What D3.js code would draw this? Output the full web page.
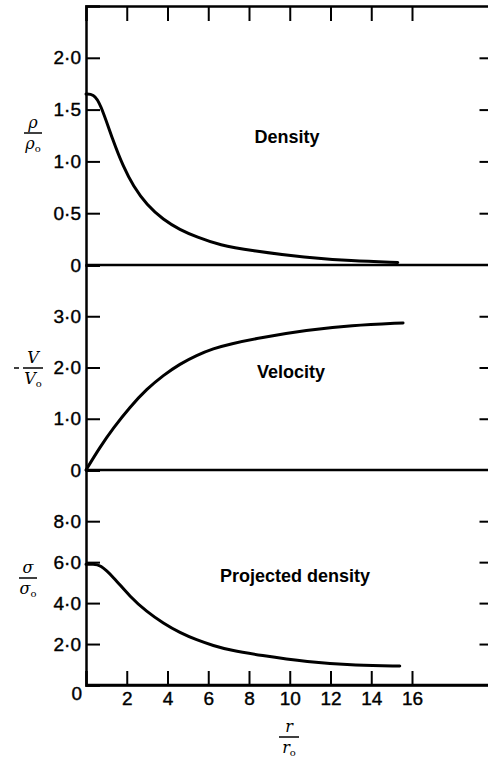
<!DOCTYPE html>
<html>
<head>
<meta charset="utf-8">
<script src="https://cdn.jsdelivr.net/npm/d3@7"></script>
<style>
  body { margin: 0; background: #fff; }
  svg { display: block; }
  .tick text { font-family: "Liberation Sans", Arial, sans-serif; font-size: 19px; fill: #000; stroke: #000; stroke-width: 0.4px; }
  .panel-label { font-family: "Liberation Sans", Arial, sans-serif; font-size: 18px; font-weight: bold; }
  .axis-title { font-family: "DejaVu Serif", serif; font-style: italic; font-size: 16px; }
</style>
</head>
<body>
<div id="chart"></div>
<script>
// Data (r / r0 against each quantity)
var rDensity = [0, 0.36, 0.69, 1.34, 1.83, 2.32, 2.98, 3.80, 4.61, 5.43, 6.58, 8.04, 10.8, 13.0, 15.3];
var density  = [1.65, 1.65, 1.57, 1.19, 0.95, 0.76, 0.58, 0.435, 0.34, 0.27, 0.19, 0.14, 0.07, 0.04, 0.025];

var rVelocity = [0, 0.69, 1.34, 2.16, 2.98, 3.80, 4.61, 5.43, 6.25, 7.07, 8.54, 10.84, 13.0, 15.56];
var velocity  = [0, 0.45, 0.82, 1.23, 1.58, 1.85, 2.07, 2.24, 2.37, 2.46, 2.58, 2.73, 2.82, 2.87];

var rProjected = [0, 0.35, 0.69, 1.34, 2.16, 2.98, 3.80, 4.61, 5.43, 6.25, 7.07, 8.54, 10.84, 13.3, 15.4];
var projected  = [5.9, 5.9, 5.88, 5.28, 4.31, 3.58, 3.01, 2.55, 2.20, 1.92, 1.70, 1.45, 1.12, 0.95, 0.93];

var xTicks = [2, 4, 6, 8, 10, 12, 14, 16];
var densityTicks = [0, 0.5, 1, 1.5, 2];
var densityLabels = ['0', '0·5', '1·0', '1·5', '2·0'];
var velocityTicks = [0, 1, 2, 3];
var velocityLabels = ['0', '1·0', '2·0', '3·0'];
var projTicks = [0, 2, 4, 6, 8];
var projLabels = ['0', '2·0', '4·0', '6·0', '8·0'];

var width = 488, height = 758;

var svg = d3.select('#chart').append('svg')
    .attr('width', width)
    .attr('height', height);

// X scale; frame runs past the page edge to r = 20
var x = d3.scaleLinear().domain([0, 20]).range([86, 493.5]);

// Panels
var panels = [
  {r: rDensity, v: density, domain: [0, 2.5], range: [265, 6], ticks: densityTicks, labels: densityLabels,
   name: 'Density', lx: 287, ly: 143},
  {r: rVelocity, v: velocity, domain: [0, 4], range: [470, 265], ticks: velocityTicks, labels: velocityLabels,
   name: 'Velocity', lx: 291, ly: 378},
  {r: rProjected, v: projected, domain: [0, 10.5], range: [685, 470], ticks: projTicks, labels: projLabels,
   name: 'Projected density', lx: 295, ly: 582}
];

panels.forEach(function(p, i) {
  p.y = d3.scaleLinear().domain(p.domain).range(p.range);

  // left axis, ticks pointing inward
  var left = svg.append('g')
      .attr('transform', 'translate(' + x(0) + ',0)')
      .call(d3.axisLeft(p.y)
        .tickValues(p.ticks)
        .tickSize(-14)
        .tickPadding(5)
        .tickFormat(function(d, j) { return p.labels[j]; }));
  left.select('.domain').attr('stroke-width', 2.5);
  left.selectAll('.tick line').attr('stroke-width', 2);
  if (i === 2) {
    left.selectAll('.tick').filter(function(d) { return d === 0; })
      .select('text').attr('dy', '0.75em').attr('x', -4);
  }

  // right axis (frame beyond the page edge)
  var right = svg.append('g')
      .attr('transform', 'translate(' + x(20) + ',0)')
      .call(d3.axisLeft(p.y)
        .tickValues(p.ticks.filter(function(d) { return d > 0; }))
        .tickSize(14)
        .tickFormat(''));
  right.selectAll('.tick line').attr('stroke-width', 2);

  // bottom line of panel
  svg.append('line')
      .attr('x1', x(0)).attr('x2', x(20))
      .attr('y1', p.y(0)).attr('y2', p.y(0))
      .attr('stroke', '#000').attr('stroke-width', 2.5);

  // curve
  var pts = p.r.map(function(r, j) { return [r, p.v[j]]; });
  svg.append('path')
      .datum(pts)
      .attr('fill', 'none')
      .attr('stroke', '#000')
      .attr('stroke-width', 3)
      .attr('stroke-linecap', 'round')
      .attr('d', d3.line()
        .x(function(d) { return x(d[0]); })
        .y(function(d) { return p.y(d[1]); })
        .curve(d3.curveBasis));

  svg.append('text')
      .attr('class', 'panel-label')
      .attr('x', p.lx).attr('y', p.ly)
      .attr('text-anchor', 'middle')
      .text(p.name);
});

// Top axis
var topAxis = svg.append('g')
    .attr('transform', 'translate(0,' + panels[0].y(2.5) + ')')
    .call(d3.axisBottom(x).tickValues(xTicks).tickSize(15).tickFormat(''));
topAxis.select('.domain').attr('stroke-width', 2.5);
topAxis.selectAll('.tick line').attr('stroke-width', 2);

// Bottom axis
var bottomAxis = svg.append('g')
    .attr('transform', 'translate(0,' + panels[2].y(0) + ')')
    .call(d3.axisBottom(x).tickValues(xTicks).tickSize(-14).tickPadding(7).tickFormat(d3.format('d')));
bottomAxis.select('.domain').attr('stroke-width', 2.5);
bottomAxis.selectAll('.tick line').attr('stroke-width', 2);

// Axis titles as fractions
function fraction(cx, cy, num, den, half, prefix) {
  var g = svg.append('g').attr('class', 'axis-title');
  g.append('text').attr('x', cx).attr('y', cy - 5).attr('text-anchor', 'middle').text(num);
  g.append('line').attr('x1', cx - half).attr('x2', cx + half)
      .attr('y1', cy).attr('y2', cy).attr('stroke', '#000').attr('stroke-width', 1.5);
  var t = g.append('text').attr('x', cx).attr('y', cy + 16).attr('text-anchor', 'middle');
  t.append('tspan').text(den);
  t.append('tspan').attr('font-size', '10px').attr('font-style', 'normal').attr('dy', 3).text('o');
  if (prefix) {
    svg.append('line').attr('x1', cx - half - 9).attr('x2', cx - half - 4)
        .attr('y1', cy).attr('y2', cy).attr('stroke', '#000').attr('stroke-width', 1.5);
  }
}
fraction(33, 133, 'ρ', 'ρ', 9, false);
fraction(33, 368, 'V', 'V', 10, true);
fraction(28, 578, 'σ', 'σ', 9, false);
fraction(289, 737, 'r', 'r', 10, false);
</script>
</body>
</html>
